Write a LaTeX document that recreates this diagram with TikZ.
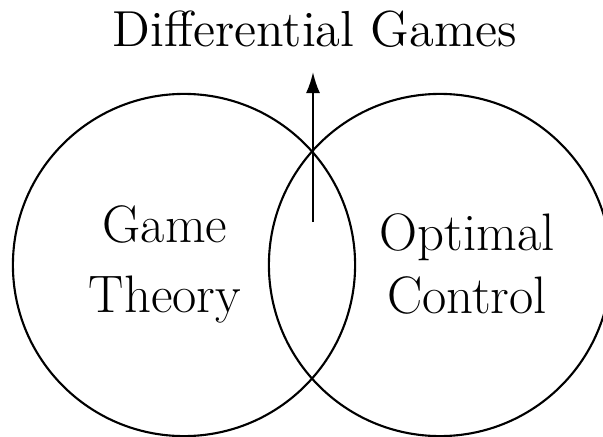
\documentclass[tikz,border=0pt]{standalone}
\usetikzlibrary{arrows.meta}

\begin{document}
\begin{tikzpicture}[x=0.01cm, y=0.01cm, line width=0.6pt,
    set/.style={draw, circle, minimum size=3.42cm, inner sep=0pt},
    label/.style={align=center, font=\fontsize{15}{18}\selectfont}]
    \useasboundingbox (0,0) rectangle (603,436);
    \node (gtset) [set] at (184,171) {};
    \node (ocset) [set] at (440,171) {};
    \node (gt) [label] at (165,171.5) {Game\\[2pt]Theory};
    \node (oc) [label] at (467,172) {Optimal\\Control};
    \node (dg) [font=\Large] at (315,407) {Differential Games};

    \coordinate (overlap) at (313,214);
    \coordinate (tip) at (313,364);
    \draw[-{Latex[length=6pt, width=4pt]}] (overlap) -- (tip);
\end{tikzpicture}
\end{document}
